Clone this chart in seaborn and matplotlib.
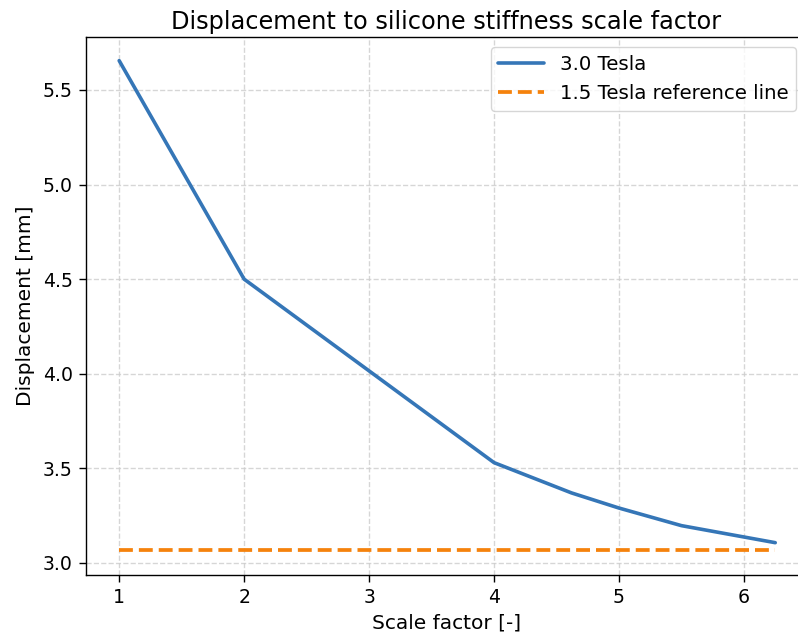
import matplotlib
matplotlib.use("Agg")
import matplotlib.pyplot as plt
import seaborn as sns
import pandas as pd

# Scale factor applied to the silicone stiffness and resulting displacement
scale_factor = [1.0, 2.0, 3.0, 4.0, 4.62, 5.0, 5.5, 6.25]
displacement_3t = [5.655, 4.50, 4.015, 3.53, 3.37, 3.29, 3.197, 3.107]
reference_1p5t = 3.067

sns.set_style("ticks")
plt.rcParams["font.family"] = ["DejaVu Sans"]
plt.rcParams.update({
    "text.color": "black",
    "axes.labelcolor": "black",
    "axes.edgecolor": "black",
    "xtick.color": "black",
    "ytick.color": "black",
})

df = pd.DataFrame({"scale": scale_factor, "disp": displacement_3t})
ref = pd.DataFrame({"scale": [scale_factor[0], scale_factor[-1]],
                    "disp": [reference_1p5t, reference_1p5t]})

fig, ax = plt.subplots(figsize=(7.98, 6.38), dpi=100)
fig.subplots_adjust(left=0.108, right=1.01, top=0.942, bottom=0.099)

sns.lineplot(data=df, x="scale", y="disp", ax=ax, color="#3576b7",
             linewidth=2.6, label="3.0 Tesla")
sns.lineplot(data=ref, x="scale", y="disp", ax=ax, color="#f5820c",
             linewidth=2.7, linestyle="--",
             label="1.5 Tesla reference line")

ax.set_xlim(0.736, 6.496)
ax.set_ylim(2.937, 5.78)
ax.set_xticks([1, 2, 3, 4, 5, 6])
ax.set_yticks([3.0, 3.5, 4.0, 4.5, 5.0, 5.5])
ax.tick_params(labelsize=13.6, length=5, width=1, pad=4.5)
ax.grid(True, linestyle="--", color="#cccccc", linewidth=1, alpha=0.8)
for sp in ax.spines.values():
    sp.set_linewidth(1)

ax.set_title("Displacement to silicone stiffness scale factor", fontsize=17.3)
ax.set_xlabel("Scale factor [-]", fontsize=14.5, labelpad=5)
ax.set_ylabel("Displacement [mm]", fontsize=14.5, labelpad=6)

ax.legend(loc="upper right", fontsize=14.2, handlelength=2.3)

fig.savefig("out.png", dpi=100)
